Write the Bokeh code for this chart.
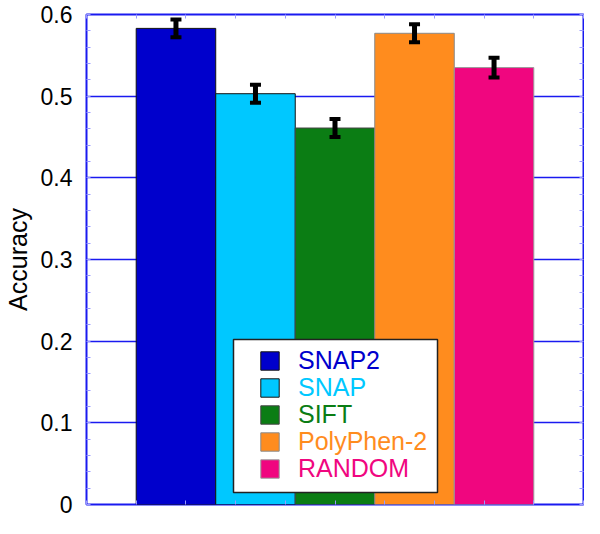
import numpy as np
from bokeh.plotting import figure
from bokeh.models import (ColumnDataSource, FixedTicker, LinearAxis, Whisker, TeeHead,
                          Legend, LegendItem, BoxAnnotation, Range1d, Grid)
from bokeh.embed import file_html
from bokeh.resources import INLINE

# ---- data ----
methods = ["SNAP2", "SNAP", "SIFT", "PolyPhen-2", "RANDOM"]
positions = [1, 2, 3, 4, 5]
accuracy = [0.583, 0.503, 0.461, 0.577, 0.535]
error = [0.011, 0.011, 0.011, 0.011, 0.012]
y_ticks = [0, 0.1, 0.2, 0.3, 0.4, 0.5, 0.6]
y_tick_labels = ["0", "0.1", "0.2", "0.3", "0.4", "0.5", "0.6"]

# ---- styles ----
bar_colors = ["#0000cc", "#00c8ff", "#0b7d14", "#ff8c1e", "#f0067f"]
edge_colors = ["#111111", "#111111", "#444444", "#8a8a8a", "#9a9a9a"]
BLUE = "#1a1af0"
MINOR = "#9a9aff"
FONT = "Liberation Sans"

acc = np.array(accuracy)
err = np.array(error)
src = ColumnDataSource(dict(x=positions, top=accuracy, color=bar_colors, edge=edge_colors,
                            upper=(acc + err).tolist(), lower=(acc - err).tolist(),
                            name=methods))

p = figure(width=584, height=518, output_backend="svg", toolbar_location=None,
           x_range=Range1d(-0.125, 6.125), y_range=Range1d(0, 0.6),
           x_axis_type=None, y_axis_type=None)
p.min_border_left = 86
p.min_border_right = 1
p.min_border_top = 14
p.min_border_bottom = 14
p.outline_line_color = BLUE
p.outline_line_width = 2
p.background_fill_color = "white"
p.border_fill_color = "white"

minor_y = np.round(np.arange(0, 0.6001, 0.02), 3).tolist()
minor_x = np.round(np.arange(-0.125, 6.126, 0.625), 4).tolist()

# horizontal grid
grid = Grid(dimension=1, ticker=FixedTicker(ticks=y_ticks), grid_line_color=BLUE, grid_line_width=1.5)
p.add_layout(grid)

# axes
yl = LinearAxis(ticker=FixedTicker(ticks=y_ticks, minor_ticks=minor_y),
                major_label_overrides={t: l for t, l in zip(y_ticks, y_tick_labels)},
                axis_label="Accuracy")
yr = LinearAxis(ticker=FixedTicker(ticks=[], minor_ticks=minor_y))
xb = LinearAxis(ticker=FixedTicker(ticks=[], minor_ticks=minor_x))
xt = LinearAxis(ticker=FixedTicker(ticks=[], minor_ticks=minor_x))
for ax in (yl, yr, xb, xt):
    ax.axis_line_color = None
    ax.major_tick_in = 0
    ax.major_tick_out = 0
    ax.minor_tick_in = 4
    ax.minor_tick_out = 0
    ax.minor_tick_line_color = MINOR
    ax.minor_tick_line_width = 1
    ax.major_label_standoff = 0
    ax.axis_label_standoff = 0
yl.major_label_standoff = 14
yl.major_label_text_font = FONT
yl.major_label_text_font_size = "23px"
yl.major_label_text_color = "black"
yl.axis_label_text_font = FONT
yl.axis_label_text_font_size = "25px"
yl.axis_label_text_font_style = "normal"
yl.axis_label_text_color = "black"
yl.axis_label_standoff = 6
p.add_layout(yl, "left")
p.add_layout(yr, "right")
p.add_layout(xb, "below")
p.add_layout(xt, "above")

# bars
bars = p.vbar(x="x", top="top", width=1, source=src, fill_color="color",
              line_color="edge", line_width=1)

# error bars
wh = Whisker(source=src, base="x", upper="upper", lower="lower",
             line_color="black", line_width=5, level="annotation",
             upper_head=TeeHead(size=11, line_width=4, line_color="black"),
             lower_head=TeeHead(size=11, line_width=4, line_color="black"))
p.add_layout(wh)

# legend frame
box = BoxAnnotation(left=147, right=351, bottom=12, top=165,
                    left_units="screen", right_units="screen",
                    top_units="screen", bottom_units="screen",
                    fill_color="white", fill_alpha=1.0,
                    line_color="#222222", line_width=1.5, line_alpha=1.0)
p.add_layout(box)

# legend entries (one per method so each label gets its own colour)
for k, name in enumerate(methods):
    leg = Legend(items=[LegendItem(label=name, renderers=[bars], index=k)],
                 location=(172, 129 - 27 * k),
                 padding=0, margin=0, spacing=0,
                 glyph_width=23, glyph_height=23, label_height=23,
                 label_standoff=17,
                 label_text_font=FONT, label_text_font_size="25px",
                 label_text_color=bar_colors[k],
                 border_line_color=None, background_fill_alpha=0)
    p.add_layout(leg)

open("out.html", "w").write(file_html(p, INLINE))
